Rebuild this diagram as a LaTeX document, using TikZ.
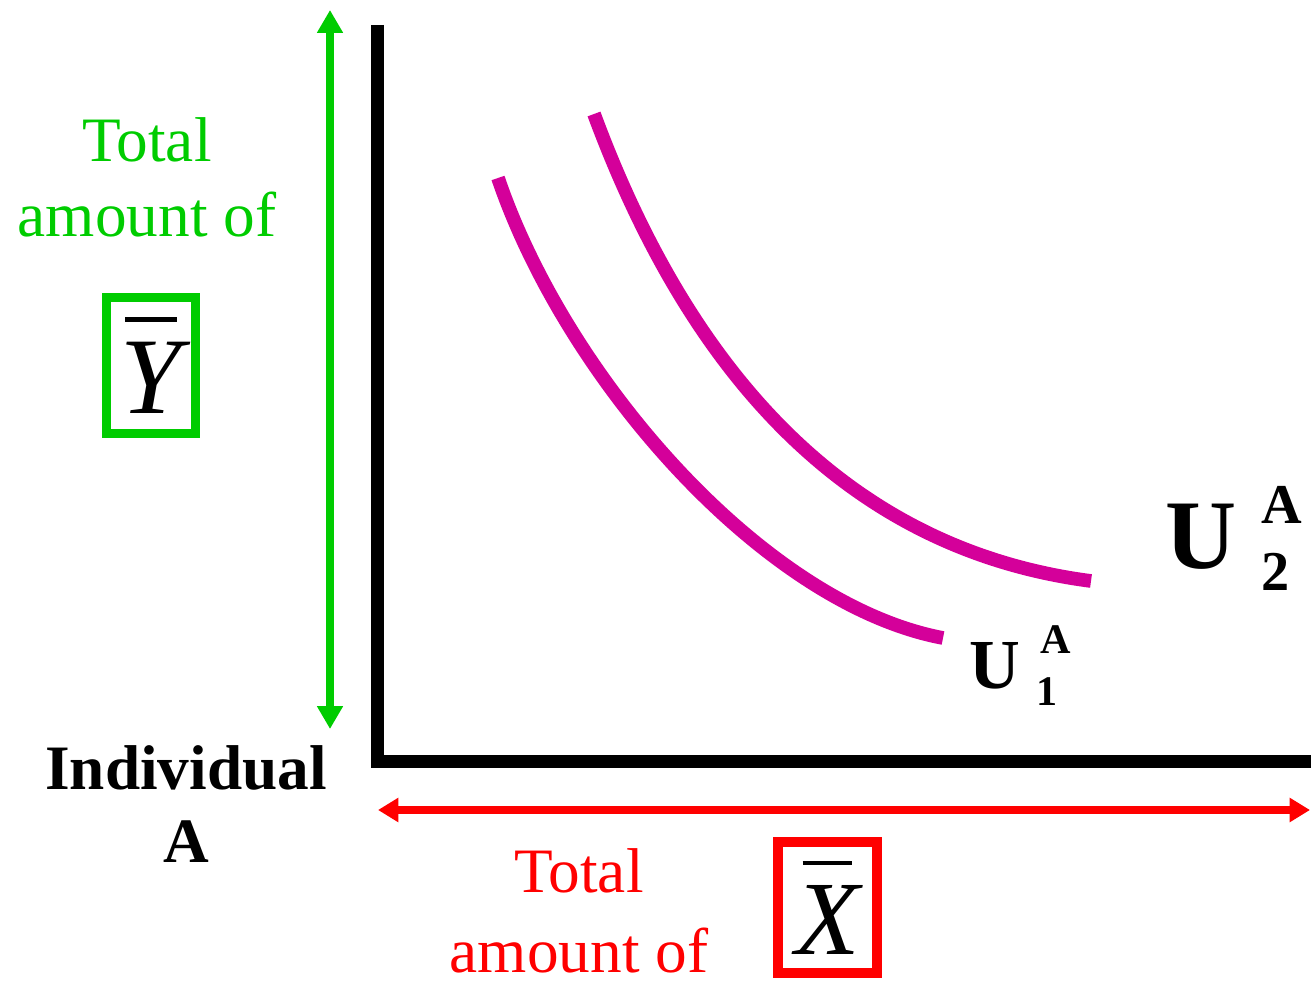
\documentclass[tikz,border=0pt]{standalone}
\usepackage{fontspec}
\setmainfont{Liberation Serif}
\usetikzlibrary{arrows.meta}
\definecolor{ygreen}{RGB}{0,204,0}
\definecolor{xred}{RGB}{255,0,0}
\definecolor{umag}{RGB}{212,0,154}
\newcommand{\qbar}[1]{\vbox{\offinterlineskip\halign{\hfil##\hfil\cr\rule{0.47em}{0.04em}\cr\noalign{\kern0.19em}#1\cr}}}

\begin{document}
\begin{tikzpicture}[
    axis/.style={line width=3.7pt, black},
    yarr/.style={{Triangle[length=6.5pt,width=7pt]}-{Triangle[length=6.5pt,width=7pt]}, line width=2pt, ygreen},
    xarr/.style={{Triangle[length=5.8pt,width=6.6pt]}-{Triangle[length=5.8pt,width=6.6pt]}, line width=2.3pt, xred},
    icurve/.style={line width=3.9pt, umag},
    lbl/.style={inner sep=0, align=center, anchor=base},
    qbox/.style={draw, inner sep=0}
  ]
    \useasboundingbox (0,0) rectangle (13.11,9.81);

    \coordinate (ytop) at (3.775,9.56);
    \coordinate (xend) at (13.11,2.195);
    \draw[axis] (ytop) |- (xend);

    \coordinate (yup) at (3.30,9.71);
    \coordinate (ydown) at (3.30,2.52);
    \draw[yarr] (yup) -- (ydown);

    \coordinate (xleft) at (3.78,1.71);
    \coordinate (xright) at (13.10,1.71);
    \draw[xarr] (xleft) -- (xright);

    \draw[icurve] (4.98,8.03) .. controls (5.66,6.03) and (7.63,3.77) .. (9.43,3.43);
    \draw[icurve] (5.94,8.67) .. controls (6.865,6.17) and (8.41,4.325) .. (10.91,4.00);

    \node[lbl, text=ygreen, font=\fontsize{18}{21.6}\selectfont] (ytext) at (1.47,7.44) {Total\\amount of};
    \node[qbox, draw=ygreen, line width=2.6pt, minimum width=0.89cm, minimum height=1.36cm,
          font=\fontsize{31}{31}\selectfont] (ybar) at (1.51,6.155) {\qbar{\itshape Y}};

    \node[lbl, text=xred, font=\fontsize{18}{22.5}\selectfont] (xtext) at (5.79,0.09) {Total\\amount of};
    \node[qbox, draw=xred, line width=2.85pt, minimum width=0.99cm, minimum height=1.31cm,
          font=\fontsize{30}{30}\selectfont] (xbar) at (8.275,0.735) {\qbar{\itshape X}};

    \node[lbl, font=\bfseries\fontsize{18}{20.5}\selectfont] (indiv) at (1.86,1.19) {Individual\\A};

    \node[lbl, anchor=base west, font=\bfseries\fontsize{20}{20}\selectfont] (u1) at (9.69,2.93) {U};
    \node[lbl, font=\bfseries\fontsize{12}{12}\selectfont] (u1a) at (10.56,3.28) {A};
    \node[lbl, font=\bfseries\fontsize{12}{12}\selectfont] (u1n) at (10.47,2.76) {1};

    \node[lbl, anchor=base west, font=\bfseries\fontsize{28}{28}\selectfont] (u2) at (11.65,4.13) {U};
    \node[lbl, font=\bfseries\fontsize{16}{16}\selectfont] (u2a) at (12.82,4.58) {A};
    \node[lbl, font=\bfseries\fontsize{16}{16}\selectfont] (u2n) at (12.76,3.91) {2};
  \end{tikzpicture}
\end{document}
